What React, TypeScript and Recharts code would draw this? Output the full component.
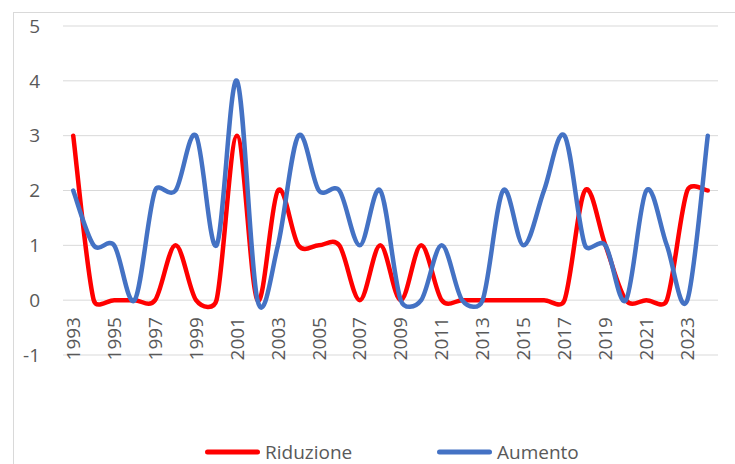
import React from 'react';
import { LineChart, Line, XAxis, YAxis, CartesianGrid, Legend } from 'recharts';

const years = [
  '1993', '1994', '1995', '1996', '1997', '1998', '1999', '2000',
  '2001', '2002', '2003', '2004', '2005', '2006', '2007', '2008',
  '2009', '2010', '2011', '2012', '2013', '2014', '2015', '2016',
  '2017', '2018', '2019', '2020', '2021', '2022', '2023', '2024',
];
const riduzione = [3, 0, 0, 0, 0, 1, 0, 0, 3, 0, 2, 1, 1, 1, 0, 1, 0, 1, 0, 0, 0, 0, 0, 0, 0, 2, 1, 0, 0, 0, 2, 2];
const aumento = [2, 1, 1, 0, 2, 2, 3, 1, 4, 0, 1, 3, 2, 2, 1, 2, 0, 0, 1, 0, 0, 2, 1, 2, 3, 1, 1, 0, 2, 1, 0, 3];
const yTicks = [-1, 0, 1, 2, 3, 4, 5];
const seriesOrder = ['Riduzione', 'Aumento'];

const data = years.map((y, i) => ({ year: y, Riduzione: riduzione[i], Aumento: aumento[i] }));

const FONT = "'Open Sans', 'Noto Sans', sans-serif";
const TEXT = '#595959';

// Excel-like smoothed line (Catmull-Rom Bezier with control length limited)
function excelSmooth(context: any) {
  let pts: number[][] = [];
  const dist = (a: number[], b: number[]) => Math.hypot(b[0] - a[0], b[1] - a[1]);
  return {
    areaStart() {},
    areaEnd() {},
    lineStart() {
      pts = [];
    },
    point(x: number, y: number) {
      pts.push([+x, +y]);
    },
    lineEnd() {
      const n = pts.length;
      if (!n) return;
      context.moveTo(pts[0][0], pts[0][1]);
      if (n === 1) {
        context.lineTo(pts[0][0], pts[0][1]);
        return;
      }
      for (let i = 0; i < n - 1; i++) {
        const p0 = pts[Math.max(i - 1, 0)];
        const p1 = pts[i];
        const p2 = pts[i + 1];
        const p3 = pts[Math.min(i + 2, n - 1)];
        const d12 = dist(p1, p2);
        const d02 = dist(p0, p2);
        const d13 = dist(p1, p3);
        let f0 = 1 / 6;
        let f1 = 1 / 6;
        if (d02 / 6 >= d12 / 2 && d02 > 0) f0 = d12 / 2 / d02;
        if (d13 / 6 >= d12 / 2 && d13 > 0) f1 = d12 / 2 / d13;
        const c1x = p1[0] + (p2[0] - p0[0]) * f0;
        const c1y = p1[1] + (p2[1] - p0[1]) * f0;
        const c2x = p2[0] - (p3[0] - p1[0]) * f1;
        const c2y = p2[1] - (p3[1] - p1[1]) * f1;
        context.bezierCurveTo(c1x, c1y, c2x, c2y, p2[0], p2[1]);
      }
    },
  };
}

const XTick = (props: any) => {
  const { x, y, payload } = props;
  const ty = y - 38;
  return (
    <text
      x={x}
      y={ty}
      transform={`rotate(-90 ${x} ${ty})`}
      textAnchor="end"
      dy="0.35em"
      fill={TEXT}
      fontSize={19}
      fontFamily={FONT}
    >
      {payload.value}
    </text>
  );
};

const renderLegend = (props: any) => {
  const payload = [...(props.payload || [])].sort(
    (a: any, b: any) => seriesOrder.indexOf(a.value) - seriesOrder.indexOf(b.value)
  );
  return (
    <div style={{ display: 'flex', paddingLeft: 205, height: 24, alignItems: 'center' }}>
      {payload.map((entry: any) => (
        <div key={entry.value} style={{ width: 232, display: 'flex', alignItems: 'center' }}>
          <svg width={55} height={10} style={{ display: 'block' }}>
            <line x1={2.5} y1={5} x2={52.5} y2={5} stroke={entry.color} strokeWidth={5} strokeLinecap="round" />
          </svg>
          <span style={{ marginLeft: 5, fontSize: 19, color: TEXT, fontFamily: FONT, lineHeight: '24px' }}>
            {entry.value}
          </span>
        </div>
      ))}
    </div>
  );
};

export default function App() {
  return (
    <div style={{ position: 'fixed', left: 0, top: 0, width: 735, height: 464, overflow: 'hidden', background: '#fff' }}>
      <div
        style={{
          position: 'absolute',
          left: 13,
          top: 12,
          width: 760,
          height: 480,
          border: '1px solid #d9d9d9',
        }}
      />
      <div style={{ position: 'absolute', left: 0, top: 0 }}>
        <LineChart width={735} height={464} data={data} margin={{ top: 26, right: 17, bottom: 0, left: 0 }}>
          <CartesianGrid vertical={false} stroke="#d9d9d9" strokeWidth={1} />
          <XAxis
            dataKey="year"
            scale="band"
            interval={1}
            tickLine={false}
            axisLine={false}
            tickSize={0}
            tickMargin={0}
            height={85}
            tick={<XTick />}
          />
          <YAxis
            domain={[-1, 5]}
            ticks={yTicks}
            width={63}
            tickLine={false}
            axisLine={false}
            tickSize={0}
            tickMargin={23}
            tick={{ fill: TEXT, fontSize: 19, fontFamily: FONT }}
            interval={0}
          />
          <Legend verticalAlign="bottom" content={renderLegend} wrapperStyle={{ left: 0, width: 735 }} />
          <Line
            dataKey="Riduzione"
            type={excelSmooth as any}
            stroke="#FF0000"
            strokeWidth={4.5}
            strokeLinecap="round"
            strokeLinejoin="round"
            dot={false}
            activeDot={false}
            isAnimationActive={false}
          />
          <Line
            dataKey="Aumento"
            type={excelSmooth as any}
            stroke="#4472C4"
            strokeWidth={4.5}
            strokeLinecap="round"
            strokeLinejoin="round"
            dot={false}
            activeDot={false}
            isAnimationActive={false}
          />
        </LineChart>
      </div>
    </div>
  );
}
